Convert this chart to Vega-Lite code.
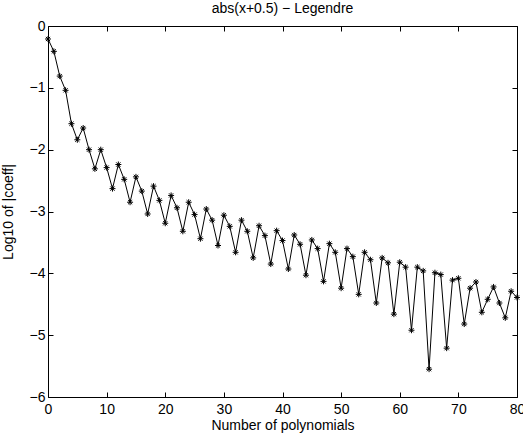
{
  "$schema": "https://vega.github.io/schema/vega-lite/v6.json",
  "width": 469,
  "height": 371,
  "autosize": "none",
  "padding": {"left": 48, "top": 26, "right": 6, "bottom": 41},
  "background": "white",
  "title": {"text": "abs(x+0.5) − Legendre", "fontSize": 14, "fontWeight": "normal", "font": "Liberation Sans", "offset": 3, "anchor": "middle", "color": "black"},
  "config": {
    "view": {"stroke": "black", "strokeWidth": 1},
    "axis": {"domain": false, "grid": false, "tickColor": "black", "tickSize": -5, "tickWidth": 1, "labelFont": "Liberation Sans", "labelFontSize": 14, "labelColor": "black", "titleFont": "Liberation Sans", "titleFontSize": 14, "titleFontWeight": "normal", "titleColor": "black"}
  },
  "data": {"values": [
    {"n":0,"v":-0.21},{"n":1,"v":-0.41},{"n":2,"v":-0.81},{"n":3,"v":-1.04},{"n":4,"v":-1.58},
    {"n":5,"v":-1.84},{"n":6,"v":-1.65},{"n":7,"v":-2.0},{"n":8,"v":-2.31},{"n":9,"v":-2.0},
    {"n":10,"v":-2.29},{"n":11,"v":-2.63},{"n":12,"v":-2.24},{"n":13,"v":-2.48},{"n":14,"v":-2.85},
    {"n":15,"v":-2.44},{"n":16,"v":-2.67},{"n":17,"v":-3.04},{"n":18,"v":-2.59},{"n":19,"v":-2.82},
    {"n":20,"v":-3.19},{"n":21,"v":-2.74},{"n":22,"v":-2.94},{"n":23,"v":-3.32},{"n":24,"v":-2.85},
    {"n":25,"v":-3.05},{"n":26,"v":-3.44},{"n":27,"v":-2.96},{"n":28,"v":-3.14},{"n":29,"v":-3.55},
    {"n":30,"v":-3.06},{"n":31,"v":-3.24},{"n":32,"v":-3.66},{"n":33,"v":-3.14},{"n":34,"v":-3.32},
    {"n":35,"v":-3.75},{"n":36,"v":-3.23},{"n":37,"v":-3.39},{"n":38,"v":-3.85},{"n":39,"v":-3.31},
    {"n":40,"v":-3.47},{"n":41,"v":-3.93},{"n":42,"v":-3.38},{"n":43,"v":-3.53},{"n":44,"v":-4.03},
    {"n":45,"v":-3.46},{"n":46,"v":-3.6},{"n":47,"v":-4.13},{"n":48,"v":-3.52},{"n":49,"v":-3.66},
    {"n":50,"v":-4.24},{"n":51,"v":-3.6},{"n":52,"v":-3.73},{"n":53,"v":-4.34},{"n":54,"v":-3.66},
    {"n":55,"v":-3.78},{"n":56,"v":-4.48},{"n":57,"v":-3.75},{"n":58,"v":-3.83},{"n":59,"v":-4.66},
    {"n":60,"v":-3.82},{"n":61,"v":-3.9},{"n":62,"v":-4.92},{"n":63,"v":-3.9},{"n":64,"v":-3.96},
    {"n":65,"v":-5.55},{"n":66,"v":-3.99},{"n":67,"v":-4.02},{"n":68,"v":-5.21},{"n":69,"v":-4.11},
    {"n":70,"v":-4.08},{"n":71,"v":-4.82},{"n":72,"v":-4.24},{"n":73,"v":-4.14},{"n":74,"v":-4.63},
    {"n":75,"v":-4.42},{"n":76,"v":-4.22},{"n":77,"v":-4.48},{"n":78,"v":-4.72},{"n":79,"v":-4.29},
    {"n":80,"v":-4.39}
  ]},
  "layer": [
    {
      "mark": {"type": "line", "color": "black", "strokeWidth": 1},
      "encoding": {
        "x": {"field": "n", "type": "quantitative", "scale": {"domain": [0, 80], "nice": false, "zero": false},
              "axis": {"orient": "bottom", "values": [0,10,20,30,40,50,60,70,80], "title": "Number of polynomials", "labelPadding": 10, "titlePadding": 2, "labelFlush": false}},
        "y": {"field": "v", "type": "quantitative", "scale": {"domain": [-6, 0], "nice": false},
              "axis": {"orient": "left", "values": [-6,-5,-4,-3,-2,-1,0], "title": "Log10 of |coeff|", "labelPadding": 8, "titlePadding": 14, "labelFlush": false}}
      }
    },
    {
      "mark": {"type": "point", "shape": "M-1,0L1,0M0,-1L0,1M-0.7,-0.7L0.7,0.7M-0.7,0.7L0.7,-0.7", "filled": false, "stroke": "black", "strokeWidth": 1, "size": 36, "opacity": 1},
      "encoding": {
        "x": {"field": "n", "type": "quantitative", "scale": {"domain": [0, 80], "nice": false, "zero": false},
              "axis": {"orient": "top", "values": [0,10,20,30,40,50,60,70,80], "labels": false, "title": null}},
        "y": {"field": "v", "type": "quantitative", "scale": {"domain": [-6, 0], "nice": false},
              "axis": {"orient": "right", "values": [-6,-5,-4,-3,-2,-1,0], "labels": false, "title": null}}
      }
    }
  ],
  "resolve": {"axis": {"x": "independent", "y": "independent"}}
}
